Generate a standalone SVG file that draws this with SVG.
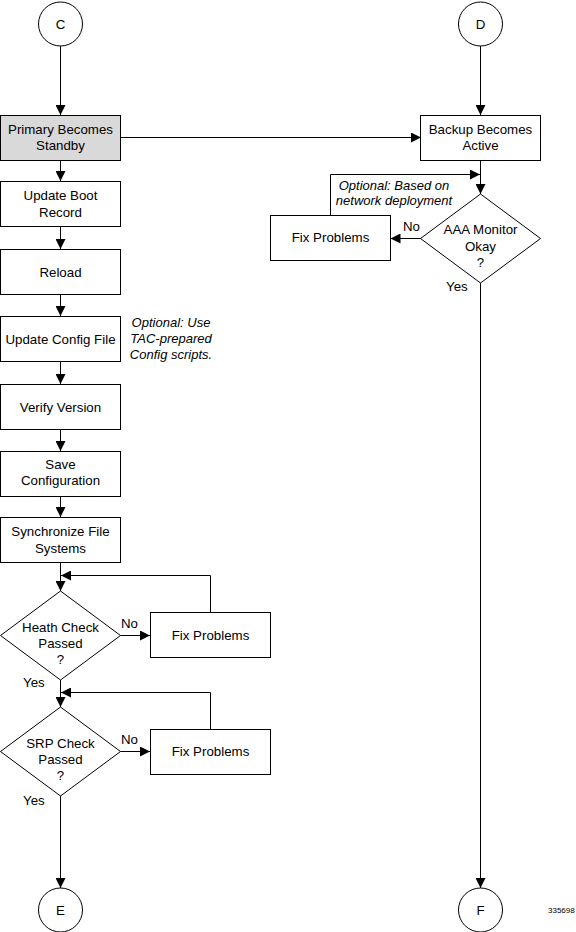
<svg xmlns="http://www.w3.org/2000/svg" width="576" height="932" viewBox="0 0 576 932">
<defs>
<marker id="arr" markerUnits="userSpaceOnUse" markerWidth="10" markerHeight="10" refX="10" refY="5" orient="auto">
<path d="M0,0 L10,5 L0,10 z" fill="#000"/>
</marker>
<style>
.n{fill:#fff;stroke:#000;stroke-width:1}
.g{fill:#d9d9d9;stroke:#000;stroke-width:1}
.c{fill:none;stroke:#000;stroke-width:1;marker-end:url(#arr)}
.l{fill:none;stroke:#000;stroke-width:1}
text{font-family:"Liberation Sans",Arial,sans-serif;font-size:13.3px;fill:#000}
.m{text-anchor:middle}
.i{font-style:italic;font-size:13px}
</style>
</defs>
<rect width="576" height="932" fill="#fff"/>
<g id="connectors">
<path class="c" d="M60.5,46 V115"/>
<path class="c" d="M60.5,160 V181"/>
<path class="c" d="M60.5,227 V249"/>
<path class="c" d="M60.5,294 V316"/>
<path class="c" d="M60.5,361 V384"/>
<path class="c" d="M60.5,429 V451"/>
<path class="c" d="M60.5,496 V517"/>
<path class="c" d="M60.5,562 V591"/>
<path class="c" d="M120.5,635.5 H150"/>
<path class="c" d="M210.5,612 V575.5 H61"/>
<path class="c" d="M60.5,680 V707"/>
<path class="c" d="M120.5,751.5 H150"/>
<path class="c" d="M210.5,729 V692.5 H61"/>
<path class="c" d="M60.5,795 V888"/>
<path class="c" d="M120.5,137.5 H421"/>
<path class="c" d="M480.5,46 V115"/>
<path class="c" d="M480.5,160 V194"/>
<path class="c" d="M330.5,215 V174.5 H480"/>
<path class="c" d="M421,238.5 H390.5"/>
<path class="c" d="M480.5,283 V888"/>
</g>
<g id="C"><circle class="n" cx="60.5" cy="24" r="22"/><text class="m" x="60.5" y="28.5">C</text></g>
<g id="D"><circle class="n" cx="480.5" cy="24" r="22"/><text class="m" x="480.5" y="28.5">D</text></g>
<g id="E"><circle class="n" cx="60.5" cy="910" r="22"/><text class="m" x="60.5" y="914.5">E</text></g>
<g id="F"><circle class="n" cx="480.5" cy="910" r="22"/><text class="m" x="480.5" y="914.5">F</text></g>
<g id="primary"><rect class="g" x="0.5" y="115.5" width="120" height="45"/><text class="m" x="60.5" y="133.5">Primary Becomes</text><text class="m" x="60.5" y="150">Standby</text></g>
<g id="bootrecord"><rect class="n" x="0.5" y="181.5" width="120" height="45"/><text class="m" x="60.5" y="200">Update Boot</text><text class="m" x="60.5" y="216.5">Record</text></g>
<g id="reload"><rect class="n" x="0.5" y="249.5" width="120" height="45"/><text class="m" x="60.5" y="276.5">Reload</text></g>
<g id="configfile"><rect class="n" x="0.5" y="316.5" width="120" height="45"/><text class="m" x="60.5" y="343.5">Update Config File</text></g>
<g id="verify"><rect class="n" x="0.5" y="384.5" width="120" height="45"/><text class="m" x="60.5" y="411.5">Verify Version</text></g>
<g id="save"><rect class="n" x="0.5" y="451.5" width="120" height="45"/><text class="m" x="60.5" y="468.5">Save</text><text class="m" x="60.5" y="485">Configuration</text></g>
<g id="sync"><rect class="n" x="0.5" y="517.5" width="120" height="45"/><text class="m" x="60.5" y="536">Synchronize File</text><text class="m" x="60.5" y="552.5">Systems</text></g>
<g id="health"><polygon class="n" points="60.5,591 120.5,635.5 60.5,680 0.5,635.5"/><text class="m" x="60.5" y="631.5">Heath Check</text><text class="m" x="60.5" y="647.5">Passed</text><text class="m" x="60.5" y="663.5">?</text></g>
<g id="fix1"><rect class="n" x="150.5" y="612.5" width="120" height="45"/><text class="m" x="210.5" y="639.5">Fix Problems</text></g>
<g id="srp"><polygon class="n" points="60.5,707 120.5,751.5 60.5,796 0.5,751.5"/><text class="m" x="60.5" y="747.5">SRP Check</text><text class="m" x="60.5" y="763.5">Passed</text><text class="m" x="60.5" y="779.5">?</text></g>
<g id="fix2"><rect class="n" x="150.5" y="729.5" width="120" height="45"/><text class="m" x="210.5" y="756">Fix Problems</text></g>
<g id="backup"><rect class="n" x="420.5" y="115.5" width="120" height="45"/><text class="m" x="480.5" y="133.5">Backup Becomes</text><text class="m" x="480.5" y="150">Active</text></g>
<g id="aaa"><polygon class="n" points="480.5,194 540.5,238.5 480.5,283 420.5,238.5"/><text class="m" x="480.5" y="234">AAA Monitor</text><text class="m" x="480.5" y="250.5">Okay</text><text class="m" x="480.5" y="266.5">?</text></g>
<g id="fix3"><rect class="n" x="270.5" y="215.5" width="120" height="45"/><text class="m" x="330.5" y="242">Fix Problems</text></g>
<g id="labels">
<text x="121" y="628">No</text>
<text x="23" y="687">Yes</text>
<text x="121" y="744">No</text>
<text x="23" y="805">Yes</text>
<text x="403" y="231">No</text>
<text x="446" y="291">Yes</text>
<text class="m i" x="394" y="190">Optional: Based on</text>
<text class="m i" x="394" y="205">network deployment</text>
<text class="m i" x="171" y="327">Optional: Use</text>
<text class="m i" x="171" y="343">TAC-prepared</text>
<text class="m i" x="171" y="359">Config scripts.</text>
<text x="548" y="913" style="font-size:8px">335698</text>
</g>
</svg>
